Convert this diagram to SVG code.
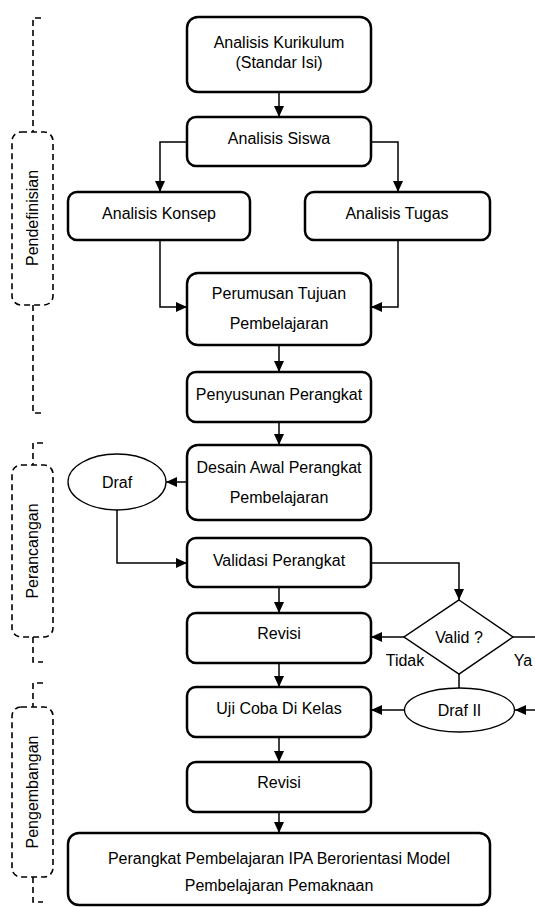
<svg xmlns="http://www.w3.org/2000/svg" width="535" height="907" viewBox="0 0 535 907">
<style>
.box{fill:#fff;stroke:#000;stroke-width:2.5}
.oval{fill:#fff;stroke:#000;stroke-width:1.3}
.dash{fill:none;stroke:#000;stroke-width:1.6;stroke-dasharray:6 4}
.t{font-family:"Liberation Sans",Arial,sans-serif;font-size:16px;fill:#000;text-anchor:middle}
.c{fill:none;stroke:#000;stroke-width:1.5}
</style>
<defs>
<marker id="ah" viewBox="0 0 11 10" refX="11" refY="5" markerWidth="11" markerHeight="10" markerUnits="userSpaceOnUse" orient="auto">
<path d="M0,0 L11,5 L0,10 z" fill="#000"/>
</marker>
</defs>
<rect width="535" height="907" fill="#fff"/>

<g id="phase-pendefinisian">
<path class="dash" d="M41,18 H33 V132"/>
<rect class="dash" x="12" y="132" width="41" height="173" rx="9"/>
<path class="dash" d="M33,305 V413 H43"/>
<text class="t" transform="translate(38,218) rotate(-90)">Pendefinisian</text>
</g>
<g id="phase-perancangan">
<path class="dash" d="M43,443 H33 V465"/>
<rect class="dash" x="12" y="465" width="41" height="172" rx="9"/>
<path class="dash" d="M33,637 V662 H43"/>
<text class="t" transform="translate(38,551) rotate(-90)">Perancangan</text>
</g>
<g id="phase-pengembangan">
<path class="dash" d="M43,683 H33 V707"/>
<rect class="dash" x="12" y="707" width="41" height="170" rx="9"/>
<path class="dash" d="M33,877 V902 H43"/>
<text class="t" transform="translate(38,792) rotate(-90)">Pengembangan</text>
</g>

<g id="connectors">
<path class="c" d="M279,92 V117" marker-end="url(#ah)"/>
<path class="c" d="M187,142 H160 V192" marker-end="url(#ah)"/>
<path class="c" d="M371,142 H398 V192" marker-end="url(#ah)"/>
<path class="c" d="M160,240 V307 H187" marker-end="url(#ah)"/>
<path class="c" d="M398,240 V307 H371" marker-end="url(#ah)"/>
<path class="c" d="M279,345 V372" marker-end="url(#ah)"/>
<path class="c" d="M279,422 V445" marker-end="url(#ah)"/>
<path class="c" d="M187,482 H166" marker-end="url(#ah)"/>
<path class="c" d="M117,510 V563 H187" marker-end="url(#ah)"/>
<path class="c" d="M371,563 H459 V600" marker-end="url(#ah)"/>
<path class="c" d="M279,587 V613" marker-end="url(#ah)"/>
<path class="c" d="M404,637 H371" marker-end="url(#ah)"/>
<path class="c" d="M513,637 H535"/>
<path class="c" d="M459,674 V688"/>
<path class="c" d="M535,710 H515" marker-end="url(#ah)"/>
<path class="c" d="M404,710 H371" marker-end="url(#ah)"/>
<path class="c" d="M279,663 V687" marker-end="url(#ah)"/>
<path class="c" d="M279,737 V762" marker-end="url(#ah)"/>
<path class="c" d="M279,812 V833" marker-end="url(#ah)"/>
</g>

<g id="analisis-kurikulum">
<rect class="box" x="187" y="17" width="184" height="75" rx="11"/>
<text class="t" x="279" y="48">Analisis Kurikulum</text>
<text class="t" x="279" y="68">(Standar Isi)</text>
</g>
<g id="analisis-siswa">
<rect class="box" x="187" y="117" width="184" height="49" rx="9"/>
<text class="t" x="279" y="144">Analisis Siswa</text>
</g>
<g id="analisis-konsep">
<rect class="box" x="68" y="192" width="182" height="48" rx="9"/>
<text class="t" x="159" y="219">Analisis Konsep</text>
</g>
<g id="analisis-tugas">
<rect class="box" x="305" y="192" width="185" height="48" rx="9"/>
<text class="t" x="397" y="219">Analisis Tugas</text>
</g>
<g id="perumusan-tujuan">
<rect class="box" x="187" y="273" width="184" height="72" rx="11"/>
<text class="t" x="279" y="299">Perumusan Tujuan</text>
<text class="t" x="279" y="329">Pembelajaran</text>
</g>
<g id="penyusunan-perangkat">
<rect class="box" x="187" y="372" width="184" height="50" rx="9"/>
<text class="t" x="279" y="400">Penyusunan Perangkat</text>
</g>
<g id="desain-awal">
<rect class="box" x="187" y="445" width="184" height="75" rx="11"/>
<text class="t" x="279" y="473">Desain Awal Perangkat</text>
<text class="t" x="279" y="503">Pembelajaran</text>
</g>
<g id="draf">
<ellipse class="oval" cx="117" cy="482" rx="49" ry="28"/>
<text class="t" x="117" y="488">Draf</text>
</g>
<g id="validasi-perangkat">
<rect class="box" x="187" y="538" width="184" height="49" rx="9"/>
<text class="t" x="279" y="566">Validasi Perangkat</text>
</g>
<g id="valid">
<polygon points="459,600 513,637 459,674 404,637" fill="#fff" stroke="#000" stroke-width="1.5"/>
<text class="t" x="459" y="643">Valid ?</text>
<text class="t" x="405" y="666">Tidak</text>
<text class="t" x="523" y="666">Ya</text>
</g>
<g id="revisi-1">
<rect class="box" x="187" y="613" width="184" height="50" rx="9"/>
<text class="t" x="279" y="639">Revisi</text>
</g>
<g id="draf-ii">
<ellipse class="oval" cx="459.5" cy="710" rx="55" ry="22"/>
<text class="t" x="459.5" y="716">Draf II</text>
</g>
<g id="uji-coba">
<rect class="box" x="187" y="687" width="184" height="50" rx="9"/>
<text class="t" x="279" y="714">Uji Coba Di Kelas</text>
</g>
<g id="revisi-2">
<rect class="box" x="187" y="762" width="184" height="50" rx="9"/>
<text class="t" x="279" y="788">Revisi</text>
</g>
<g id="perangkat-final">
<rect class="box" x="68" y="833" width="422" height="72" rx="11"/>
<text class="t" x="279" y="864">Perangkat Pembelajaran IPA Berorientasi Model</text>
<text class="t" x="279" y="891">Pembelajaran Pemaknaan</text>
</g>
</svg>
